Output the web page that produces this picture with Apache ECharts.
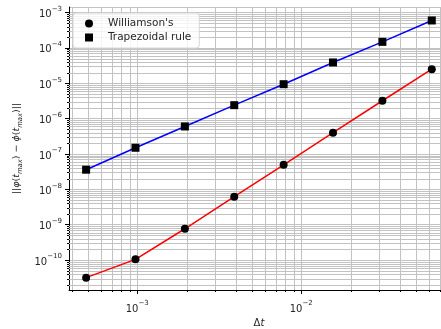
<!DOCTYPE html>
<html>
<head>
<meta charset="utf-8">
<script src="https://cdn.jsdelivr.net/npm/echarts@6/dist/echarts.min.js"></script>
<style>
  html, body { margin: 0; padding: 0; background: #fff; }
  #chart { width: 441px; height: 329px; }
</style>
</head>
<body>
<div id="chart"></div>
<script>
// Time steps (halving from 1/16 down to 1/2048)
const timeSteps = [0.00048828, 0.00097656, 0.0019531, 0.0039063, 0.0078125, 0.015625, 0.03125, 0.0625];
// Error norms at t_max for each scheme
const williamsonErr = [3.2e-11, 1.05e-10, 7.7e-10, 6.2e-9, 4.95e-8, 4.0e-7, 3.2e-6, 2.5e-5];
const trapezoidalErr = [3.6e-8, 1.5e-7, 6.0e-7, 2.4e-6, 9.4e-6, 3.87e-5, 1.48e-4, 5.95e-4];
const seriesNames = ["Williamson's", 'Trapezoidal rule'];

const xMin = 3.84e-4, xMax = 0.0796;
const yMin = 1.43e-11, yMax = 1.43e-3;

// minor log positions (2..9 times each decade) inside the axis range
function minorValues(lo, hi) {
  const out = [];
  for (let k = Math.floor(Math.log10(lo)) - 1; k <= Math.ceil(Math.log10(hi)); k++) {
    for (let m = 2; m <= 9; m++) {
      const v = m * Math.pow(10, k);
      if (v > lo && v < hi) out.push(v);
    }
  }
  return out;
}
const xMinor = minorValues(xMin, xMax);
const yMinor = minorValues(yMin, yMax);

const FONT = 'DejaVu Sans';
const TEXT = '#262626';
const GRID_COLOR = '#c2c2c2';

function powLabel(v) {
  const e = Math.round(Math.log10(v));
  return '{b|10}{s|' + (e < 0 ? '\u2212' : '') + Math.abs(e) + '}';
}
const powRich = {
  b: { fontFamily: FONT, fontSize: 10, color: TEXT, verticalAlign: 'bottom', lineHeight: 14 },
  s: { fontFamily: FONT, fontSize: 7, color: TEXT, verticalAlign: 'top', lineHeight: 14 }
};

const crisp = v => Math.round(v) + 0.5;

const chart = echarts.init(document.getElementById('chart'), null, { renderer: 'canvas' });

chart.setOption({
  animation: false,
  backgroundColor: '#fff',
  grid: { left: 69, right: -8, top: 7, bottom: 39, containLabel: false, outerBoundsMode: 'none' },
  legend: {
    data: [
      { name: seriesNames[0], icon: 'circle' },
      { name: seriesNames[1], icon: 'rect' }
    ],
    orient: 'vertical',
    left: 73, top: 13,
    padding: [5, 8, 5, 12],
    itemWidth: 8, itemHeight: 8,
    itemGap: 3,
    formatter: '{t|{name}}',
    backgroundColor: 'rgba(255,255,255,0.8)',
    borderColor: '#d6d6d6', borderWidth: 1, borderRadius: 3,
    textStyle: {
      fontFamily: FONT, fontSize: 10.5, color: TEXT,
      rich: { t: { fontFamily: FONT, fontSize: 10.5, color: TEXT, padding: [0, 0, 0, 10] } }
    }
  },
  xAxis: {
    type: 'log', logBase: 10, min: xMin, max: xMax,
    name: '{n|\u0394}{i|t}', nameLocation: 'middle', nameGap: 25,
    nameTextStyle: {
      rich: {
        n: { fontFamily: FONT, fontSize: 10, color: TEXT },
        i: { fontFamily: FONT, fontSize: 10, fontStyle: 'italic', color: TEXT }
      }
    },
    axisLine: { show: true, onZero: false, lineStyle: { color: '#000', width: 1 } },
    axisTick: { show: true, inside: false, length: 4, lineStyle: { color: '#000' } },
    axisLabel: { formatter: powLabel, rich: powRich, margin: 10, showMinLabel: false, showMaxLabel: false },
    splitLine: { show: true, lineStyle: { color: GRID_COLOR, width: 1 } },
    minorTick: { show: false }, minorSplitLine: { show: false }
  },
  yAxis: {
    type: 'log', logBase: 10, min: yMin, max: yMax,
    name: '||{i|\u03C6}({i|t}{s|max}) \u2212 {i|\u03D5}({i|t}{s|max})||',
    nameLocation: 'middle', nameGap: 40, nameRotate: 90,
    nameTextStyle: {
      fontFamily: FONT, fontSize: 9.5, color: TEXT,
      rich: {
        i: { fontFamily: FONT, fontSize: 9.5, fontStyle: 'italic', color: TEXT, verticalAlign: 'middle', lineHeight: 15 },
        s: { fontFamily: FONT, fontSize: 6.8, fontStyle: 'italic', color: TEXT, verticalAlign: 'bottom', lineHeight: 15 }
      }
    },
    axisLine: { show: true, onZero: false, lineStyle: { color: '#000', width: 1 } },
    axisTick: { show: true, inside: false, length: 4, lineStyle: { color: '#000' } },
    axisLabel: { formatter: powLabel, rich: powRich, margin: 7, showMinLabel: false, showMaxLabel: false },
    splitLine: { show: true, lineStyle: { color: GRID_COLOR, width: 1 } },
    minorTick: { show: false }, minorSplitLine: { show: false }
  },
  series: [
    {
      // minor vertical grid lines and minor x ticks
      type: 'custom', silent: true, z: 1,
      data: xMinor.map(v => [v, yMin]),
      renderItem(params, api) {
        const v = api.value(0);
        const top = api.coord([v, yMax]);
        const bot = api.coord([v, yMin]);
        const x = crisp(top[0]);
        return {
          type: 'group', children: [
            { type: 'line', shape: { x1: x, y1: top[1], x2: x, y2: bot[1] }, style: { stroke: GRID_COLOR, lineWidth: 1 } },
            { type: 'line', shape: { x1: x, y1: bot[1], x2: x, y2: bot[1] + 2 }, style: { stroke: '#000', lineWidth: 1 } }
          ]
        };
      }
    },
    {
      // minor horizontal grid lines and minor y ticks
      type: 'custom', silent: true, z: 1,
      data: yMinor.map(v => [xMin, v]),
      renderItem(params, api) {
        const v = api.value(1);
        const left = api.coord([xMin, v]);
        const right = api.coord([xMax, v]);
        const y = crisp(left[1]);
        return {
          type: 'group', children: [
            { type: 'line', shape: { x1: left[0], y1: y, x2: right[0], y2: y }, style: { stroke: GRID_COLOR, lineWidth: 1 } },
            { type: 'line', shape: { x1: left[0] - 2, y1: y, x2: left[0], y2: y }, style: { stroke: '#000', lineWidth: 1 } }
          ]
        };
      }
    },
    {
      name: seriesNames[0], type: 'line', z: 3,
      data: timeSteps.map((t, i) => [t, williamsonErr[i]]),
      symbol: 'circle', symbolSize: 8,
      itemStyle: { color: '#000' },
      lineStyle: { color: '#ff0000', width: 1.5 },
      emphasis: { disabled: true }
    },
    {
      name: seriesNames[1], type: 'line', z: 3,
      data: timeSteps.map((t, i) => [t, trapezoidalErr[i]]),
      symbol: 'rect', symbolSize: 8,
      itemStyle: { color: '#000' },
      lineStyle: { color: '#0000ff', width: 1.5 },
      emphasis: { disabled: true }
    }
  ]
});
</script>
</body>
</html>
